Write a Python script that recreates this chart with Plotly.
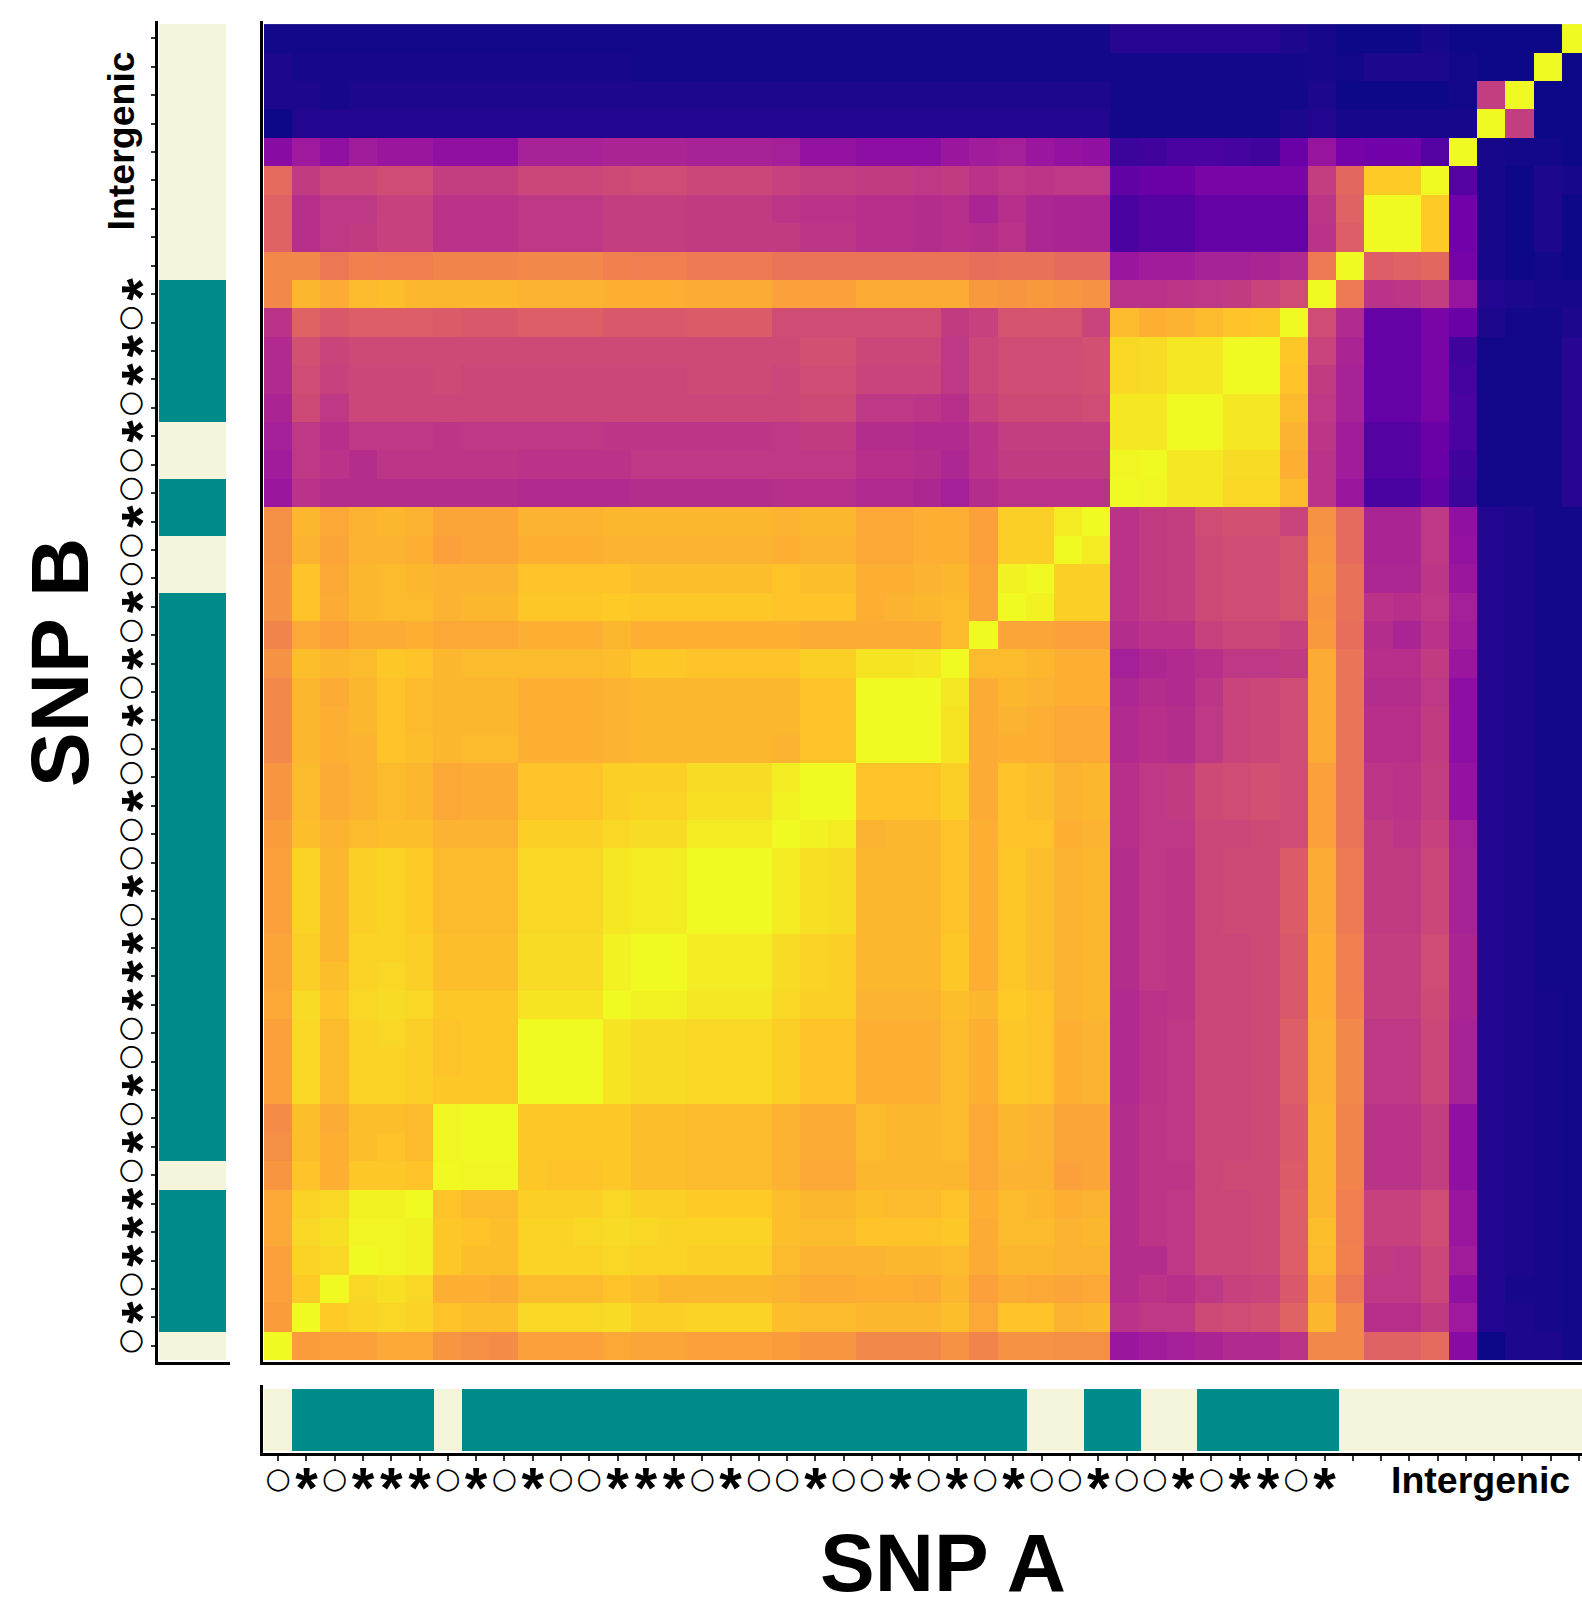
import plotly.graph_objects as go

# LD values (percent), lower triangle; row N holds columns 0..N
r00 = [100]
r01 = [77,100]
r02 = [78,89,100]
r03 = [78,91,92,100]
r04 = [80,92,94,99,99]
r05 = [80,91,92,98,98,100]
r06 = [75,87,82,88,88,87,100]
r07 = [73,86,82,86,87,85,99,100]
r08 = [72,86,81,86,86,85,99,100,100]
r09 = [78,92,85,91,91,90,88,88,88,100]
r10 = [78,92,85,91,91,90,87,88,88,100,100]
r11 = [78,92,85,91,92,90,87,88,88,100,100,100]
r12 = [80,93,87,92,93,92,88,88,88,95,95,95,100]
r13 = [79,90,86,91,92,90,86,86,86,93,93,93,98,100]
r14 = [79,90,84,91,91,90,86,86,86,93,93,93,98,100,100]
r15 = [78,91,84,90,91,89,85,85,85,92,92,92,96,97,97,100]
r16 = [78,91,84,90,91,89,85,85,85,92,92,92,96,97,97,100,100]
r17 = [78,91,84,90,91,89,85,85,85,92,92,92,96,97,97,100,100,100]
r18 = [77,86,83,85,86,86,83,83,83,90,90,90,92,93,93,97,97,97,100]
r19 = [75,85,81,83,85,84,80,81,81,87,87,87,90,91,91,94,94,94,98,100]
r20 = [75,85,81,83,85,84,80,81,81,87,87,87,90,90,90,93,93,93,97,100,100]
r21 = [71,84,82,83,87,86,84,85,85,82,82,82,83,84,84,84,84,84,83,87,87,100]
r22 = [71,84,82,84,87,85,84,84,84,82,82,82,83,84,84,84,84,84,84,87,87,100,100]
r23 = [71,84,81,84,87,85,84,84,84,82,82,82,83,84,84,84,84,84,84,87,87,100,100,100]
r24 = [74,86,84,85,88,87,84,85,85,85,85,85,86,88,88,87,87,87,87,90,90,95,95,96,100]
r25 = [70,80,78,81,81,82,80,80,80,82,82,82,84,82,82,82,82,82,82,81,81,81,81,81,85,100]
r26 = [74,87,81,84,85,85,83,84,84,88,88,88,89,88,88,88,88,88,87,87,87,82,83,84,85,79,100]
r27 = [74,87,80,84,85,84,83,83,83,87,87,87,87,86,86,86,86,86,87,86,86,82,82,83,84,79,98,100]
r28 = [73,83,79,83,83,82,78,79,79,82,82,82,83,83,83,83,83,83,82,83,83,80,80,82,82,78,90,90,100]
r29 = [73,84,80,83,84,83,79,79,79,83,83,83,84,84,84,84,84,84,83,84,84,80,80,82,82,78,90,90,97,100]
r30 = [33,43,41,41,41,41,41,41,41,40,40,40,40,41,41,41,41,41,42,42,42,40,40,39,36,41,43,43,43,43,100]
r31 = [35,45,43,41,44,44,44,44,44,43,43,43,43,45,45,45,45,45,45,45,45,42,42,41,39,43,46,46,46,46,99,100]
r32 = [36,45,42,45,45,45,44,45,45,45,45,45,44,44,44,44,44,44,45,46,46,41,41,40,40,43,47,47,47,47,96,96,100]
r33 = [38,51,45,50,50,50,50,50,50,50,50,50,50,50,50,50,50,50,50,51,51,45,45,44,42,48,51,51,51,52,96,96,100,100]
r34 = [40,52,48,50,50,50,51,50,50,50,50,50,50,50,50,51,51,51,50,52,52,49,49,49,45,50,52,52,52,53,92,93,96,96,100]
r35 = [40,53,49,51,51,51,51,51,51,51,51,51,51,51,51,51,51,51,51,53,53,50,50,50,45,50,52,52,52,53,92,93,96,96,100,100]
r36 = [43,59,56,58,58,58,57,56,56,58,58,58,56,56,56,57,57,57,52,52,52,52,52,52,46,48,54,54,54,49,85,82,83,85,87,88,100]
r37 = [71,84,81,85,86,84,84,84,84,83,83,83,82,82,82,81,81,81,78,78,78,81,81,81,81,76,75,76,75,74,43,43,44,45,46,49,52,100]
r38 = [71,71,66,69,68,68,70,70,70,71,71,71,69,68,68,67,67,67,65,65,65,65,65,65,65,63,64,64,62,62,33,35,35,37,37,38,40,67,100]
r39 = [59,42,45,46,48,48,43,43,43,45,45,45,47,47,47,46,46,46,46,44,44,42,42,41,42,41,43,39,38,38,12,15,15,19,19,19,19,43,58,100]
r40 = [59,42,45,45,48,48,43,43,43,45,45,45,47,47,47,46,46,46,44,43,43,42,42,41,42,38,42,39,38,38,12,15,15,19,19,19,19,44,59,100,100]
r41 = [62,46,50,50,52,52,47,47,47,50,50,50,51,52,52,50,50,50,48,47,47,46,46,45,46,43,45,44,45,45,18,20,20,24,24,24,24,47,61,89,89,100]
r42 = [28,34,30,35,33,33,30,30,30,37,37,37,38,38,38,37,37,37,36,31,31,29,29,29,33,35,36,33,31,30,9,10,12,12,11,10,20,32,23,22,22,15,100]
r43 = [0,4,4,4,4,4,4,4,4,4,4,4,4,4,4,4,4,4,4,4,4,4,4,4,4,4,4,4,4,4,1,1,1,1,1,1,3,4,2,2,2,2,2,100]
r44 = [3,3,2,3,3,3,3,3,3,3,3,3,3,3,3,3,3,3,3,3,3,3,3,3,3,3,3,3,3,3,1,1,1,1,1,1,1,3,0,0,0,0,1,47,100]
r45 = [3,2,2,2,2,2,2,2,2,2,2,2,2,1,1,1,1,1,1,1,1,1,1,1,1,1,1,1,1,1,1,1,1,1,1,1,1,2,1,3,3,3,1,0,0,100]
r46 = [1,1,1,1,1,1,1,1,1,1,1,1,1,1,1,1,1,1,1,1,1,1,1,1,1,1,1,1,1,1,5,5,5,5,5,5,3,2,0,0,0,2,0,0,0,0,100]
lower_rows = [r00,r01,r02,r03,r04,r05,r06,r07,r08,r09,r10,r11,r12,r13,r14,r15,r16,r17,r18,r19,r20,r21,r22,r23,
              r24,r25,r26,r27,r28,r29,r30,r31,r32,r33,r34,r35,r36,r37,r38,r39,r40,r41,r42,r43,r44,r45,r46]

# 1 = genic, 0 = intergenic/non-coding
genic = [0,1,1,1,1,1,0,1,1,1,1,1,1,1,1,1,1,1,1,1,1,1,1,1,1,1,1,0,0,1,1,0,0,1,1,1,1,1,0,0,0,0,0,0,0,0,0]
# snp class labels: 'o' synonymous, 's' non-synonymous
snp_class = ['o','s','o','s','s','s','o','s','o','s','o','o','s','s','s','o','s','o','o',
             's','o','o','s','o','s','o','s','o','o','s','o','o','s','o','s','s','o','s']

for i, row in enumerate(lower_rows):
    assert len(row) == i + 1, (i, len(row))

n = len(lower_rows)
idx = list(range(n))
matrix = [[lower_rows[max(r, c)][min(r, c)] for c in idx] for r in idx]

W, H = 1582, 1600
def fx(p): return p / W
def fy(p): return 1 - p / H

CW, CH = 28.21, 28.42
CW_STRIP = 28.28
LEFT, TOP, BOT = 264.0, 24.1, 1360.0

beige_teal = [[0, '#F5F5DC'], [1, '#008B8B']]
circ_idx = [i for i, k in enumerate(snp_class) if k == 'o']
star_idx = [i for i, k in enumerate(snp_class) if k == 's']

fig = go.Figure()
fig.add_trace(go.Heatmap(z=matrix, x=idx, y=idx, colorscale='Plasma', zmin=0, zmax=100,
                         showscale=False, xaxis='x', yaxis='y', hoverinfo='skip'))
fig.add_trace(go.Heatmap(z=[[v] for v in genic], x=[0], y=idx, colorscale=beige_teal, zmin=0, zmax=1,
                         showscale=False, xaxis='x2', yaxis='y2', hoverinfo='skip'))
fig.add_trace(go.Heatmap(z=[genic], x=idx, y=[0], colorscale=beige_teal, zmin=0, zmax=1,
                         showscale=False, xaxis='x3', yaxis='y3', hoverinfo='skip'))
fig.add_trace(go.Scatter(x=star_idx, y=[0]*len(star_idx), mode='markers', marker=dict(opacity=0),
                         xaxis='x4', yaxis='y3', hoverinfo='skip', showlegend=False))
fig.add_trace(go.Scatter(x=[0]*len(star_idx), y=star_idx, mode='markers', marker=dict(opacity=0),
                         xaxis='x2', yaxis='y4', hoverinfo='skip', showlegend=False))

AX = dict(showgrid=False, zeroline=False, showline=True, linecolor='black', linewidth=3)
NOAX = dict(showgrid=False, zeroline=False, showline=False, showticklabels=False, ticks='')

x_left_edge = 263.0
x_range = [-0.5 - (LEFT - x_left_edge) / CW, -0.5 + (W - LEFT) / CW]
x_range_strip = [-0.5 - (LEFT - x_left_edge) / CW_STRIP, -0.5 + (W - LEFT) / CW_STRIP]
xdom = [fx(x_left_edge), 1]
y_top_edge, y_bot_edge = 21.0, 1361.5
y_range = [-0.5 - (y_bot_edge - BOT) / CH, n - 0.5 + (TOP - y_top_edge) / CH]
ydom = [fy(y_bot_edge), fy(y_top_edge)]

# main heatmap
main_x = dict(AX, domain=xdom, range=x_range, anchor='y', ticks='', showticklabels=False)
main_y = dict(AX, domain=ydom, range=y_range, anchor='x', ticks='', showticklabels=False)

# left annotation bar
bar_l, bar_r = 159.0, 226.0
px_unit = bar_r - bar_l
left_edge, right_edge = 157.5, 229.6
left_x = dict(AX, domain=[fx(left_edge), fx(right_edge)], anchor='y2', ticks='', showticklabels=False,
              range=[-0.5 - (bar_l - left_edge) / px_unit, 0.5 + (right_edge - bar_r) / px_unit])
tick_font = dict(family='DejaVu Sans', size=29, color='black')
star_font = dict(family='Liberation Sans', size=58, color='black', weight='bold')
left_y = dict(AX, domain=ydom, range=y_range, anchor='x2', ticks='outside', ticklen=4, tickwidth=2, tickcolor='#333333',
              tickmode='array', tickvals=idx, ticktext=['○' if i in circ_idx else '' for i in idx],
              tickfont=tick_font, tickangle=-90, ticklabelshift=0)
left_y_stars = dict(NOAX, domain=ydom, range=y_range, anchor='x2', overlaying='y2', side='left',
                    showticklabels=True, tickmode='array', tickvals=star_idx, ticktext=['*'] * len(star_idx),
                    tickfont=star_font, tickangle=-90, ticklabelstandoff=-17, ticklabelshift=4)

# bottom annotation bar
strip_top, strip_bot = 1389.0, 1451.0
strip_unit = strip_bot - strip_top
edge_top, edge_bot = 1385.0, 1453.0
bot_y = dict(AX, domain=[fy(edge_bot), fy(edge_top)], anchor='x3', ticks='', showticklabels=False,
             range=[-0.5 - (edge_bot - strip_bot) / strip_unit, 0.5 + (strip_top - edge_top) / strip_unit])
bot_x = dict(AX, domain=xdom, range=x_range_strip, anchor='y3', ticks='outside', ticklen=5, tickwidth=2, tickcolor='#333333',
             tickmode='array', tickvals=idx, ticktext=['○' if i in circ_idx else '' for i in idx],
             tickfont=tick_font, tickangle=0, ticklabelstandoff=-8)
bot_x_stars = dict(NOAX, domain=xdom, range=x_range_strip, anchor='y3', overlaying='x3', side='bottom',
                   showticklabels=True, tickmode='array', tickvals=star_idx, ticktext=['*'] * len(star_idx),
                   tickfont=star_font, tickangle=0, ticklabelstandoff=-4)

label_font = dict(family='Liberation Sans', size=37.5, color='black', weight='bold')
title_font = dict(family='Liberation Sans', size=82, color='black', weight='bold')
CENTER = dict(xref='paper', yref='paper', showarrow=False, xanchor='center', yanchor='middle')
annotations = [
    dict(CENTER, text='Intergenic', x=fx(1480), y=fy(1480), font=label_font),
    dict(CENTER, text='Intergenic', x=fx(121), y=fy(141.5), font=label_font, textangle=-90),
    dict(CENTER, text='SNP A', x=fx(943), y=fy(1562), font=title_font),
    dict(CENTER, text='SNP B', x=fx(60), y=fy(663), font=title_font, textangle=-90),
]

fig.update_layout(width=W, height=H, margin=dict(l=0, r=0, t=0, b=0), autosize=False,
                  paper_bgcolor='white', plot_bgcolor='white', showlegend=False,
                  xaxis=main_x, yaxis=main_y, xaxis2=left_x, yaxis2=left_y, xaxis3=bot_x, yaxis3=bot_y,
                  xaxis4=bot_x_stars, yaxis4=left_y_stars, annotations=annotations)

fig.write_html('out.html', config={'displayModeBar': False},
               post_script="document.body.style.margin='0';document.body.style.overflow='hidden';")
